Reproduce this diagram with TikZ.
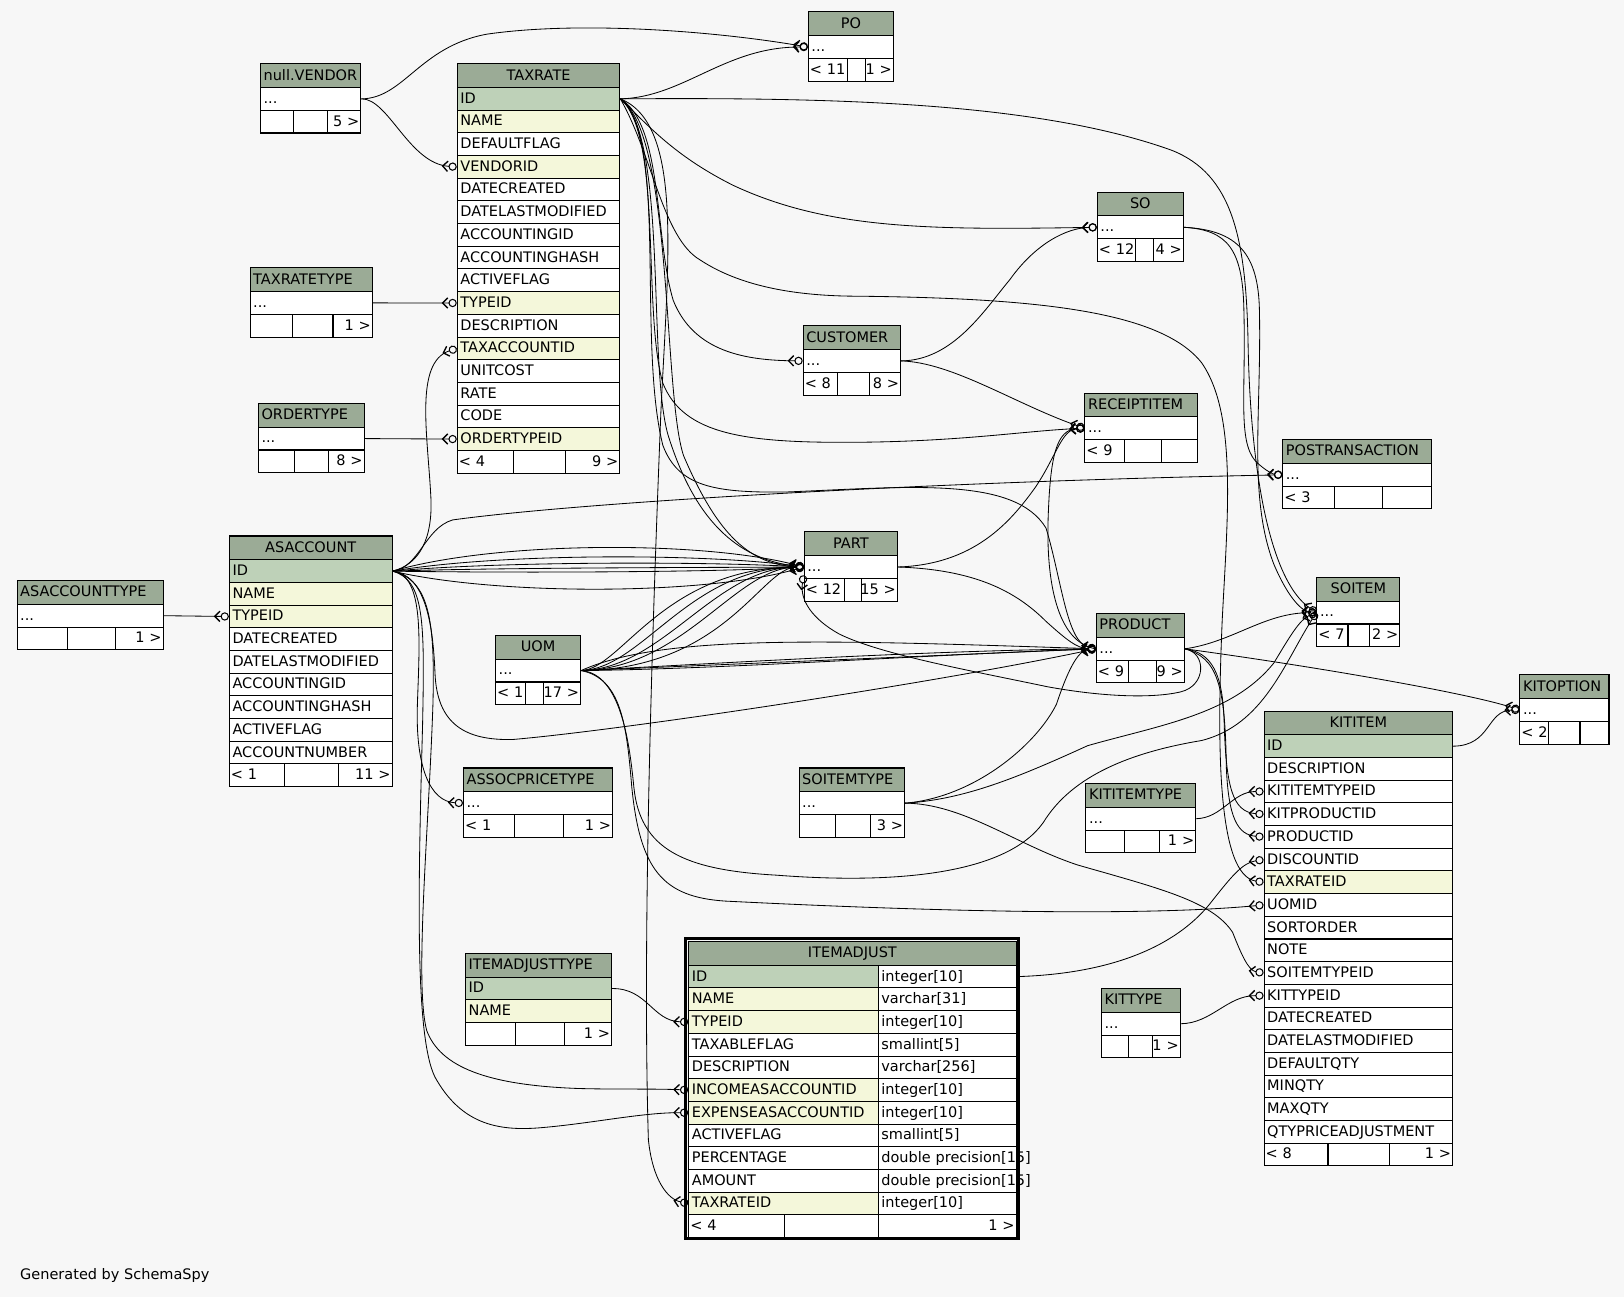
\documentclass[tikz,border=0pt]{standalone}
\usepackage{fontspec}
\setmainfont{DejaVu Sans}
\usetikzlibrary{arrows.meta}
\definecolor{bgcol}{HTML}{F7F7F7}
\definecolor{headcol}{HTML}{9BAB96}
\definecolor{pkcol}{HTML}{BED1B8}
\definecolor{fkcol}{HTML}{F4F7DA}

\begin{document}
\begin{tikzpicture}[x=1pt,y=-1pt,
    font=\fontsize{14}{16}\selectfont,
    cell/.style={draw=black,line width=1pt,fill=white,anchor=north west,
      inner xsep=3pt,inner ysep=0pt,minimum height=21.9pt,
      text height=12pt,text depth=3.5pt,align=left},
    foot/.style={cell,inner xsep=1.5pt},
    head/.style={cell,fill=headcol,minimum height=23pt},
    tl/.style={align=left},
    tc/.style={align=center},
    pkrow/.style={fill=pkcol},
    fkrow/.style={fill=fkcol},
    plainrow/.style={fill=white},
    fk/.style={line width=0.8pt,
      -{Straight Barb[reversed,length=5pt,width=10pt,line width=1.3pt]Circle[open,length=8pt,width=8pt,line width=1pt]}}]
  \fill[bgcol] (0,0) rectangle (1568,1252);
  \useasboundingbox (0,0) rectangle (1568,1252);

  % small tables: name/x/y/width/title/align/left/right/divider1/divider2
  \foreach \n/\x/\y/\w/\ttl/\al/\lft/\rgt/\dA/\dB in {
      po/780/11/82/PO/tc/{< 11}/{1 >}/38/55,
      vendor/251/61/97/null.VENDOR/tl/{}/{5 >}/32/65,
      trtype/241/258/118/TAXRATETYPE/tl/{}/{1 >}/41/80,
      otype/249/389/102/ORDERTYPE/tl/{}/{8 >}/35/68,
      so/1059/185/83/SO/tc/{< 12}/{4 >}/37/54,
      cust/775/314/94/CUSTOMER/tl/{< 8}/{8 >}/33/64,
      rcpt/1047/379/109/RECEIPTITEM/tl/{< 9}/{}/38/74,
      post/1238/424/144/POSTRANSACTION/tl/{< 3}/{}/50/96,
      actype/16/560/141/ASACCOUNTTYPE/tl/{}/{1 >}/49/95,
      part/776/513/90/PART/tc/{< 12}/{15 >}/39/55,
      uom/478/613/82/UOM/tc/{< 1}/{17 >}/29/46,
      prod/1058/592/85/PRODUCT/tl/{< 9}/{9 >}/31/58,
      soitem/1271/557/80/SOITEM/tc/{< 7}/{2 >}/30/51,
      kitopt/1467/651/86/KITOPTION/tl/{< 2}/{}/28/58,
      apt/447/741/144/ASSOCPRICETYPE/tl/{< 1}/{1 >}/49/97,
      sotype/771/741/102/SOITEMTYPE/tl/{}/{3 >}/35/69,
      kiitype/1048/756/106/KITITEMTYPE/tl/{}/{1 >}/37/71,
      kittype/1063/954/76/KITTYPE/tl/{}/{1 >}/26/49}{
    \node[head,\al,text width=\w-6] (\n) at (\x,\y) {\ttl};
    \node[cell,text width=\w-6] (\n-d) at (\x,\y+23) {...};
    \node[foot,text width=\dA-3] (\n-l) at (\x,\y+45) {\hbox to\linewidth{\lft\hss}};
    \node[foot,text width=\dB-\dA-3] (\n-m) at (\x+\dA,\y+45) {};
    \node[foot,text width=\w-\dB-3] (\n-r) at (\x+\dB,\y+45) {\hbox to\linewidth{\hss\rgt}};
  }

  % TAXRATE
  \node[head,tc,text width=151] (taxrate) at (441,61) {TAXRATE};
  \foreach \c/\s [count=\i from 0] in {ID/pkrow,NAME/fkrow,DEFAULTFLAG/plainrow,
      VENDORID/fkrow,DATECREATED/plainrow,DATELASTMODIFIED/plainrow,
      ACCOUNTINGID/plainrow,ACCOUNTINGHASH/plainrow,ACTIVEFLAG/plainrow,
      TYPEID/fkrow,DESCRIPTION/plainrow,TAXACCOUNTID/fkrow,UNITCOST/plainrow,
      RATE/plainrow,CODE/plainrow,ORDERTYPEID/fkrow}
    \node[cell,\s,text width=151] (taxrate-\c) at (441,84+21.9*\i) {\c};
  \node[foot,text width=51] (taxrate-l) at (441,434.4) {< 4};
  \node[foot,text width=47.6] (taxrate-m) at (495,434.4) {};
  \node[foot,text width=49.4,align=right] (taxrate-r) at (545.6,434.4) {9 >};

  % ASACCOUNT
  \node[head,tc,text width=151] (asacc) at (221,517) {ASACCOUNT};
  \foreach \c/\s [count=\i from 0] in {ID/pkrow,NAME/fkrow,TYPEID/fkrow,
      DATECREATED/plainrow,DATELASTMODIFIED/plainrow,ACCOUNTINGID/plainrow,
      ACCOUNTINGHASH/plainrow,ACTIVEFLAG/plainrow,ACCOUNTNUMBER/plainrow}
    \node[cell,\s,text width=151] (asacc-\c) at (221,540+21.9*\i) {\c};
  \node[foot,text width=50.6] (asacc-l) at (221,737.1) {< 1};
  \node[foot,text width=48.3] (asacc-m) at (274.6,737.1) {};
  \node[foot,text width=49.1,align=right] (asacc-r) at (325.9,737.1) {11 >};

  % KITITEM
  \node[head,tc,text width=176] (kititem) at (1220,686) {KITITEM};
  \foreach \c/\s [count=\i from 0] in {ID/pkrow,DESCRIPTION/plainrow,
      KITITEMTYPEID/plainrow,KITPRODUCTID/plainrow,PRODUCTID/plainrow,
      DISCOUNTID/plainrow,TAXRATEID/fkrow,UOMID/plainrow,SORTORDER/plainrow,
      NOTE/plainrow,SOITEMTYPEID/plainrow,KITTYPEID/plainrow,
      DATECREATED/plainrow,DATELASTMODIFIED/plainrow,DEFAULTQTY/plainrow,
      MINQTY/plainrow,MAXQTY/plainrow,QTYPRICEADJUSTMENT/plainrow}
    \node[cell,\s,text width=176] (kititem-\c) at (1220,709+21.9*\i) {\c};
  \node[foot,text width=58.7] (kititem-l) at (1220,1103.2) {< 8};
  \node[foot,text width=56.7] (kititem-m) at (1281.7,1103.2) {};
  \node[foot,text width=57.6,align=right] (kititem-r) at (1341.4,1103.2) {1 >};

  % ITEMADJUSTTYPE
  \node[head,tl,text width=135] (iatype) at (449,920) {ITEMADJUSTTYPE};
  \node[cell,pkrow,text width=135] (iatype-ID) at (449,943) {ID};
  \node[cell,fkrow,text width=135] (iatype-NAME) at (449,964.9) {NAME};
  \node[foot,text width=45.5] (iatype-l) at (449,986.8) {};
  \node[foot,text width=43.9] (iatype-m) at (497.5,986.8) {};
  \node[foot,text width=42.6,align=right] (iatype-r) at (544.4,986.8) {1 >};

  % ITEMADJUST
  \draw[line width=3pt] (662,906) rectangle (983,1196);
  \node[head,tc,text width=310] (itemadj) at (664.5,908.5) {ITEMADJUST};
  \foreach \c/\s/\ty [count=\i from 0] in {ID/pkrow/integer[10],
      NAME/fkrow/varchar[31],TYPEID/fkrow/integer[10],
      TAXABLEFLAG/plainrow/smallint[5],DESCRIPTION/plainrow/varchar[256],
      INCOMEASACCOUNTID/fkrow/integer[10],EXPENSEASACCOUNTID/fkrow/integer[10],
      ACTIVEFLAG/plainrow/smallint[5],PERCENTAGE/plainrow/double precision[15],
      AMOUNT/plainrow/double precision[15],TAXRATEID/fkrow/integer[10]}{
    \node[cell,\s,text width=177] (itemadj-\c) at (664.5,931.5+21.9*\i) {\c};
    \node[cell,text width=127] (itemadj-\c-t) at (847.5,931.5+21.9*\i) {\mbox{\ty}};
  }
  \node[foot,text width=89] (itemadj-l) at (664.5,1172.4) {< 4};
  \node[foot,text width=88] (itemadj-m) at (756.5,1172.4) {};
  \node[foot,text width=130,align=right] (itemadj-r) at (847.5,1172.4) {1 >};

  \node[anchor=base west] (credit) at (16,1235) {Generated by SchemaSpy};

  % links into TAXRATE, ASACCOUNT, PO
  \draw[fk] (vendor-d.east) .. controls (390,95) and (405,45) .. (470,33) .. controls (560,20) and (690,30) .. (po-d.west);
  \draw[fk] (vendor-d.east) .. controls (375,95) and (395,158) .. (taxrate-VENDORID.west);
  \draw[fk] (trtype-d.east) -- (taxrate-TYPEID.west);
  \draw[fk] (otype-d.east) -- (taxrate-ORDERTYPEID.west);
  \draw[fk] (actype-d.east) -- (asacc-TYPEID.west);

  % links out of TAXRATE
  \draw[fk] (taxrate-ID.east) .. controls (660,94) and (700,45) .. (po-d.west);
  \draw[fk] (taxrate-ID.east) .. controls (625,120) and (650,150) .. (708,179) .. controls (800,222) and (900,222) .. (so-d.west);
  \draw[fk] (taxrate-ID.east) .. controls (800,94) and (1000,98) .. (1131,145) .. controls (1190,168) and (1203,230) .. (1205,330) .. controls (1207,450) and (1225,560) .. (soitem-d.west);
  \draw[fk] (taxrate-ID.east) .. controls (630,150) and (640,230) .. (676,251) .. controls (720,280) and (780,286) .. (830,286) .. controls (1000,288) and (1120,300) .. (1160,350) .. controls (1195,400) and (1185,500) .. (1180,600) .. controls (1175,720) and (1175,845) .. (kititem-TAXRATEID.west);
  \draw[fk] (taxrate-ID.east) .. controls (640,120) and (632,230) .. (650,290) .. controls (670,340) and (720,348) .. (cust-d.west);
  \draw[fk] (taxrate-ID.east) .. controls (640,130) and (620,300) .. (640,370) .. controls (660,420) and (720,428) .. (830,427) .. controls (930,426) and (990,416) .. (rcpt-d.west);
  \draw[fk] (taxrate-ID.east) .. controls (645,130) and (625,350) .. (645,420) .. controls (670,500) and (710,540) .. (part-d.west);
  \draw[fk] (taxrate-ID.east) .. controls (650,130) and (640,380) .. (660,440) .. controls (690,510) and (720,545) .. (part-d.west);
  \draw[fk] (taxrate-ID.east) .. controls (645,130) and (615,330) .. (640,430) .. controls (655,470) and (690,476) .. (760,475) .. controls (880,470) and (980,460) .. (1010,510) .. controls (1025,560) and (1030,620) .. (prod-d.west);
  \draw[fk] (taxrate-ID.east) .. controls (660,120) and (645,250) .. (638,400) .. controls (630,600) and (620,900) .. (626,1100) .. controls (630,1140) and (645,1158) .. (itemadj-TAXRATEID.west);

  % links out of ASACCOUNT
  \draw[fk] (asacc-ID.east) .. controls (405,545) and (418,520) .. (416,480) .. controls (413,420) and (400,350) .. (taxrate-TAXACCOUNTID.west);
  \draw[fk] (asacc-ID.east) .. controls (405,548) and (410,510) .. (437,502) .. controls (560,485) and (900,465) .. (post-d.west);
  \foreach \c in {522,534,542,548,553,575}
    \draw[fk] (asacc-ID.east) .. controls (480,\c) and (680,\c) .. (part-d.west);
  \draw[fk] (asacc-ID.east) .. controls (410,555) and (418,600) .. (420,650) .. controls (422,700) and (450,715) .. (495,714) .. controls (600,705) and (900,660) .. (prod-d.west);
  \draw[fk] (asacc-ID.east) .. controls (410,555) and (405,620) .. (403,680) .. controls (401,740) and (415,774) .. (apt-d.west);
  \draw[fk] (asacc-ID.east) .. controls (415,560) and (420,600) .. (418,680) .. controls (414,800) and (400,950) .. (412,995) .. controls (425,1030) and (470,1048) .. (560,1051) .. controls (600,1052) and (630,1051) .. (itemadj-INCOMEASACCOUNTID.west);
  \draw[fk] (asacc-ID.east) .. controls (410,560) and (410,600) .. (408,700) .. controls (404,850) and (400,1000) .. (420,1040) .. controls (445,1085) and (480,1092) .. (520,1089) .. controls (570,1085) and (620,1074) .. (itemadj-EXPENSEASACCOUNTID.west);

  % CUSTOMER, PART, PRODUCT
  \draw[fk] (cust-d.east) .. controls (920,348) and (950,300) .. (975,270) .. controls (1000,235) and (1030,220) .. (so-d.west);
  \draw[fk] (cust-d.east) .. controls (920,350) and (980,390) .. (rcpt-d.west);
  \draw[fk] (part-d.east) .. controls (940,545) and (975,505) .. (1000,470) .. controls (1020,440) and (1025,415) .. (rcpt-d.west);
  \draw[fk] (part-d.east) .. controls (940,550) and (980,570) .. (1010,600) .. controls (1030,618) and (1040,626) .. (prod-d.west);
  \draw[fk] (prod-d.west) .. controls (1020,620) and (1010,560) .. (1012,500) .. controls (1014,440) and (1020,415) .. (rcpt-d.west);
  \draw[fk] (prod-d.east) .. controls (1165,630) and (1165,662) .. (1140,668) .. controls (1110,675) and (1060,672) .. (1011,663) .. controls (940,648) and (850,632) .. (810,612) .. controls (785,598) and (772,580) .. ([yshift=-8pt]part-d.west);
  \draw[fk] (prod-d.east) .. controls (1190,620) and (1220,592) .. (soitem-d.west);
  \draw[fk] (prod-d.east) .. controls (1280,645) and (1420,670) .. (kitopt-d.west);
  \draw[fk] (prod-d.east) .. controls (1170,630) and (1181,650) .. (1182,700) .. controls (1184,760) and (1190,784) .. (kititem-KITPRODUCTID.west);
  \draw[fk] (prod-d.east) .. controls (1175,635) and (1183,660) .. (1184,740) .. controls (1186,790) and (1195,806) .. (kititem-PRODUCTID.west);

  % links out of UOM
  \foreach \a/\b in {600/640,620/665,640/690,660/710,700/735}
    \draw[fk] (uom-d.east) .. controls (\a,646) and (\b,548) .. (part-d.west);
  \draw[fk] (uom-d.east) .. controls (640,612) and (800,618) .. (prod-d.west);
  \draw[fk] (uom-d.east) .. controls (700,640) and (900,628) .. (prod-d.west);
  \draw[fk] (uom-d.east) .. controls (700,646) and (900,632) .. (prod-d.west);
  \draw[fk] (uom-d.east) -- (prod-d.west);
  \draw[fk] (uom-d.east) .. controls (600,650) and (608,720) .. (612,760) .. controls (618,820) and (660,840) .. (750,845) .. controls (880,855) and (980,840) .. (1010,790) .. controls (1040,745) and (1100,725) .. (1160,715) .. controls (1220,700) and (1240,640) .. (soitem-d.west);
  \draw[fk] (uom-d.east) .. controls (600,655) and (605,700) .. (610,760) .. controls (618,840) and (640,866) .. (700,870) .. controls (900,880) and (1100,885) .. (kititem-UOMID.west);

  % SO, SOITEMTYPE and the rest
  \draw[fk] (so-d.east) .. controls (1185,222) and (1200,240) .. (1201,300) .. controls (1203,380) and (1195,425) .. (1212,445) .. controls (1222,455) and (1230,458) .. (post-d.west);
  \draw[fk] (so-d.east) .. controls (1195,222) and (1215,245) .. (1216,300) .. controls (1218,400) and (1205,480) .. (1230,545) .. controls (1245,580) and (1258,590) .. (soitem-d.west);
  \draw[fk] (sotype-d.east) .. controls (940,770) and (1000,720) .. (1020,680) .. controls (1030,650) and (1040,628) .. (prod-d.west);
  \draw[fk] (sotype-d.east) .. controls (930,772) and (980,752) .. (1050,720) .. controls (1120,700) and (1190,690) .. (1230,640) .. controls (1245,615) and (1255,598) .. (soitem-d.west);
  \draw[fk] (sotype-d.east) .. controls (930,776) and (980,815) .. (1040,835) .. controls (1120,858) and (1170,870) .. (1190,900) .. controls (1198,920) and (1205,937) .. (kititem-SOITEMTYPEID.west);
  \draw[fk] (kititem-ID.east) .. controls (1440,720) and (1435,686) .. (kitopt-d.west);
  \draw[fk] (kiitype-d.east) .. controls (1180,790) and (1190,764) .. (kititem-KITITEMTYPEID.west);
  \draw[fk] (kittype-d.east) .. controls (1170,988) and (1185,961) .. (kititem-KITTYPEID.west);
  \draw[fk] (itemadj-ID-t.east) .. controls (1080,940) and (1140,910) .. (1171,869) .. controls (1190,845) and (1200,833) .. (kititem-DISCOUNTID.west);
  \draw[fk] (iatype-ID.east) .. controls (625,954) and (630,986) .. (itemadj-TYPEID.west);
\end{tikzpicture}
\end{document}
